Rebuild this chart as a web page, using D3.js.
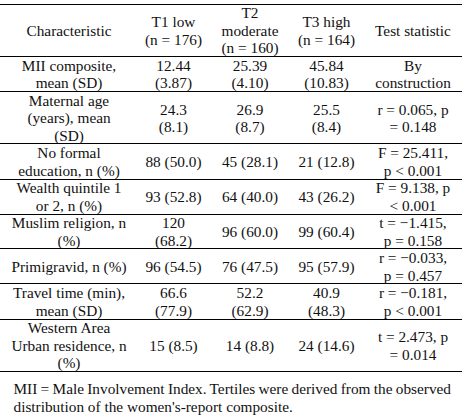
<!DOCTYPE html>
<html>
<head>
<meta charset="utf-8">
<script src="https://cdn.jsdelivr.net/npm/d3@7"></script>
<style>
  html, body { margin: 0; padding: 0; background: #fff; }
  svg { display: block; }
  text { font-family: "Liberation Serif", "Times New Roman", serif; fill: #111; }
</style>
</head>
<body>
<svg id="chart" width="462" height="417"></svg>
<script>
// ---- data ----
const headers = [
  ["Characteristic"],
  ["T1 low", "(n = 176)"],
  ["T2", "moderate", "(n = 160)"],
  ["T3 high", "(n = 164)"],
  ["Test statistic"]
];
const characteristics = [
  ["MII composite,", "mean (SD)"],
  ["Maternal age", "(years), mean", "(SD)"],
  ["No formal", "education, n (%)"],
  ["Wealth quintile 1", "or 2, n (%)"],
  ["Muslim religion, n", "(%)"],
  ["Primigravid, n (%)"],
  ["Travel time (min),", "mean (SD)"],
  ["Western Area", "Urban residence, n", "(%)"]
];
const t1Values = [
  ["12.44", "(3.87)"],
  ["24.3", "(8.1)"],
  ["88 (50.0)"],
  ["93 (52.8)"],
  ["120", "(68.2)"],
  ["96 (54.5)"],
  ["66.6", "(77.9)"],
  ["15 (8.5)"]
];
const t2Values = [
  ["25.39", "(4.10)"],
  ["26.9", "(8.7)"],
  ["45 (28.1)"],
  ["64 (40.0)"],
  ["96 (60.0)"],
  ["76 (47.5)"],
  ["52.2", "(62.9)"],
  ["14 (8.8)"]
];
const t3Values = [
  ["45.84", "(10.83)"],
  ["25.5", "(8.4)"],
  ["21 (12.8)"],
  ["43 (26.2)"],
  ["99 (60.4)"],
  ["95 (57.9)"],
  ["40.9", "(48.3)"],
  ["24 (14.6)"]
];
const testStats = [
  ["By", "construction"],
  ["r = 0.065, p", "= 0.148"],
  ["F = 25.411,", "p < 0.001"],
  ["F = 9.138, p", "< 0.001"],
  ["t = \u22121.415,", "p = 0.158"],
  ["r = \u22120.033,", "p = 0.457"],
  ["r = \u22120.181,", "p < 0.001"],
  ["t = 2.473, p", "= 0.014"]
];
const footnote = [
  "MII = Male Involvement Index. Tertiles were derived from the observed",
  "distribution of the women's-report composite."
];

// ---- layout ----
(function () {
  const svg = d3.select("#chart");
  const W = 462;
  const fontSize = 15.3;
  const columns = ["char", "t1", "t2", "t3", "test"];
  const xCol = d3.scaleOrdinal().domain(columns).range([69, 173.5, 250, 326.5, 413]);

  const rows = [headers].concat(characteristics.map((c, i) =>
    [c, t1Values[i], t2Values[i], t3Values[i], testStats[i]]));
  const rowLines = rows.map(r => d3.max(r, cell => Math.max(2, cell.length)));
  const totalLines = d3.sum(rowLines);
  const starts = [0].concat(Array.from(d3.cumsum(rowLines)));

  const tableTop = 3.5, lineH = 17.5;
  const y = d3.scaleLinear().domain([0, totalLines]).range([tableTop, tableTop + totalLines * lineH]);

  const g = svg.append("g");

  g.selectAll("line.rule")
    .data(starts)
    .join("line")
    .attr("class", "rule")
    .attr("x1", 0).attr("x2", W)
    .attr("y1", d => Math.round(y(d)) + 0.5)
    .attr("y2", d => Math.round(y(d)) + 0.5)
    .attr("stroke", "#000")
    .attr("stroke-width", 1);

  rows.forEach((row, ri) => {
    const center = y(starts[ri] + rowLines[ri] / 2);
    row.forEach((cell, ci) => {
      const n = cell.length;
      const t = g.append("text")
        .attr("text-anchor", "middle")
        .attr("font-size", fontSize);
      cell.forEach((line, li) => {
        t.append("tspan")
          .attr("x", xCol(columns[ci]))
          .attr("y", center + (li - (n - 1) / 2) * lineH)
          .attr("dy", "0.4em")
          .text(line);
      });
    });
  });

  const fnLeft = 13.5, fnRight = 451;
  const fnY0 = y(totalLines) + 17;
  footnote.forEach((line, i) => {
    const t = g.append("text")
      .attr("x", fnLeft)
      .attr("y", fnY0 + i * 18)
      .attr("dy", "0.36em")
      .attr("font-size", fontSize)
      .text(line);
    if (i === 0) {
      const natural = t.node().getComputedTextLength();
      const spaces = line.split(" ").length - 1;
      const extra = (fnRight - fnLeft - natural) / spaces;
      t.attr("word-spacing", extra);
    }
  });
})();
</script>
</body>
</html>
